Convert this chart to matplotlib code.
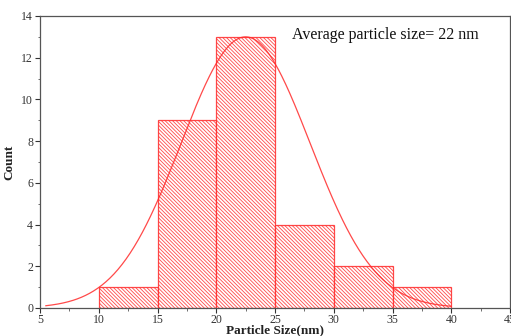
import numpy as np
import matplotlib
matplotlib.use("Agg")
import matplotlib.pyplot as plt
from matplotlib.ticker import MultipleLocator

plt.rcParams['font.family'] = ['Liberation Serif', 'DejaVu Serif']
plt.rcParams['hatch.linewidth'] = 0.6

bin_left = [10, 15, 20, 25, 30, 35]
counts = [1, 9, 13, 4, 2, 1]
bin_width = 5
fit_mean = 22.5
fit_sigma = 5.5
fit_amp = 13.0
fit_range = (5.5, 40.0)
xticks = [5, 10, 15, 20, 25, 30, 35, 40, 45]
yticks = [0, 2, 4, 6, 8, 10, 12, 14]

fig = plt.figure(figsize=(5.11, 3.36), dpi=100)
ax = fig.add_axes([40/511, 28/336, 470/511, 292/336])

red = '#ff2a2a'
ax.bar(bin_left, counts, width=bin_width, align='edge', facecolor='white',
       edgecolor=red, hatch='\\' * 9, linewidth=0.9, alpha=0.85)

xs = np.linspace(fit_range[0], fit_range[1], 400)
ys = fit_amp * np.exp(-(xs - fit_mean)**2 / (2 * fit_sigma**2))
ax.plot(xs, ys, color=red, lw=0.9, alpha=0.85)

ax.set_xlim(5, 45)
ax.set_ylim(0, 14)
ax.set_xticks(xticks)
ax.set_yticks(yticks)
ax.xaxis.set_minor_locator(MultipleLocator(2.5))
ax.yaxis.set_minor_locator(MultipleLocator(1))
ax.tick_params(which='major', direction='out', length=3.5, width=0.8, labelsize=8.5,
               colors='#333333', pad=1.5)
ax.tick_params(axis='x', which='major', pad=0.5)
ax.tick_params(which='minor', direction='out', length=1.8, width=0.6, colors='#555555')
for s in ax.spines.values():
    s.set_color('#555555')
    s.set_linewidth(0.9)

ax.set_xlabel('Particle Size(nm)', fontsize=9.5, fontweight='bold', labelpad=-1, color='#222222')
ax.set_ylabel('Count', fontsize=9.5, fontweight='bold', labelpad=4, color='#222222')
ax.text(0.537, 0.935, 'Average particle size= 22 nm', transform=ax.transAxes,
        fontsize=11.5, color='#111111', va='center', ha='left')

fig.savefig('out.png', dpi=100)
